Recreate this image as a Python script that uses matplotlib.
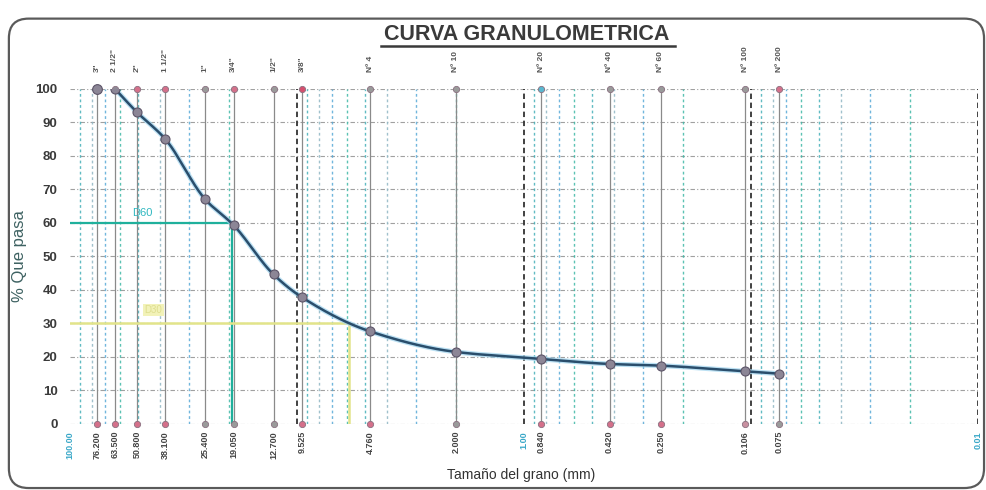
import numpy as np
import matplotlib
matplotlib.use("Agg")
import matplotlib.pyplot as plt
from matplotlib import font_manager
from matplotlib.patches import FancyBboxPatch
from matplotlib.lines import Line2D
import matplotlib.transforms as mtransforms

# ---------------- data ----------------
sieve_names = ['3"', '2 1/2"', '2"', '1 1/2"', '1"', '3/4"', '1/2"', '3/8"',
               'Nº 4', 'Nº 10', 'Nº 20', 'Nº 40', 'Nº 60', 'Nº 100', 'Nº 200']
sieve_sizes = [76.2, 63.5, 50.8, 38.1, 25.4, 19.05, 12.7, 9.525,
               4.76, 2.0, 0.84, 0.42, 0.25, 0.106, 0.075]
curve_sizes = [63.5, 50.8, 38.1, 25.4, 19.05, 12.7, 9.525,
               4.76, 2.0, 0.84, 0.42, 0.25, 0.106, 0.075]
curve_passing = [100.0, 93.0, 85.0, 67.0, 59.3, 44.6, 37.8,
                 27.6, 21.5, 19.4, 17.9, 17.4, 15.7, 15.0]
first_point_size = 76.2
first_point_passing = 100.0
bottom_tick_values = [100.0, 76.2, 63.5, 50.8, 38.1, 25.4, 19.05, 12.7, 9.525,
                      4.76, 2.0, 1.0, 0.84, 0.42, 0.25, 0.106, 0.075, 0.01]
bottom_tick_labels = ['100.00', '76.200', '63.500', '50.800', '38.100', '25.400',
                      '19.050', '12.700', '9.525', '4.760', '2.000', '1.00',
                      '0.840', '0.420', '0.250', '0.106', '0.075', '0.01']
y_ticks = [0, 10, 20, 30, 40, 50, 60, 70, 80, 90, 100]
d60_value = 19.3
d30_value = 5.9

# ---------------- styles ----------------
top_marker_colors = ['#8e8a96', '#8e8a96', '#d4708a', '#d4708a', '#9a9a9a', '#d4708a',
                     '#9a9a9a', '#d4506e', '#9a9a9a', '#9a9a9a', '#5ab8d0', '#9a9a9a',
                     '#9a9a9a', '#9a9a9a', '#d4708a']
bot_marker_colors = ['#d4708a', '#d4708a', '#d4708a', '#d4708a', '#9a9a9a', '#9a9a9a',
                     '#9a9a9a', '#d4708a', '#d4708a', '#9a9a9a', '#d4708a', '#d4708a',
                     '#d4708a', '#c890a0', '#9a9a9a']
teal_labels = {'100.00', '1.00', '0.01'}


def pick_font(cands):
    names = {f.name for f in font_manager.fontManager.ttflist}
    for c in cands:
        if c in names:
            return c
    return 'DejaVu Sans'


narrow = pick_font(['Liberation Sans Narrow', 'Liberation Sans', 'DejaVu Sans'])
regular = pick_font(['Liberation Sans', 'DejaVu Sans'])
plt.rcParams['font.family'] = [narrow, 'DejaVu Sans']

fig = plt.figure(figsize=(9.87, 4.90), dpi=100)
fig.patch.set_facecolor('white')

# outer rounded frame
frame = FancyBboxPatch((0.009, 0.004), 0.988, 0.958, transform=fig.transFigure,
                       boxstyle='round,pad=0,rounding_size=0.02', fill=False,
                       edgecolor='#5a5a5a', linewidth=1.6, mutation_aspect=2.0)
fig.add_artist(frame)

ax = fig.add_axes([0.071, 0.1347, 0.920, 0.6843])
ax.set_xscale('log')
ax.set_xlim(100, 0.01)
ax.set_ylim(0, 100)
for s in ax.spines.values():
    s.set_visible(False)
ax.minorticks_off()

# horizontal grid
for yv in y_ticks:
    ax.axhline(yv, color='#a0a0a0', lw=0.8, ls=(0, (4, 2, 1, 2)), zorder=1)

# minor decorative vertical grid (log minors)
minor_cols = ['#3fb8a6', '#58a9d6', '#8fb7c4', '#45b0b8']
k = 0
for dec in [10.0, 1.0, 0.1, 0.01]:
    for m in range(2, 10):
        xv = dec * m
        ax.axvline(xv, color=minor_cols[k % len(minor_cols)], lw=1.0,
                   ls=(0, (2, 2)), alpha=0.85, zorder=1)
        k += 1
# major decades black dashed
for xv in [10.0, 1.0, 0.1, 0.01]:
    ax.axvline(xv, color='#333333', lw=1.3, ls=(0, (3, 2)), zorder=2)

# sieve lines
for xs in sieve_sizes:
    ax.axvline(xs, color='#8a8a8a', lw=0.9, zorder=2)

# D60 / D30 lines
ax.plot([100, d60_value], [60, 60], color='#1fb09c', lw=1.6, zorder=3)
ax.plot([d60_value, d60_value], [60, 0], color='#1fb09c', lw=1.6, zorder=3)
ax.plot([100, d30_value], [30, 30], color='#e2e48a', lw=1.8, zorder=3)
ax.plot([d30_value, d30_value], [30, 0], color='#e2e48a', lw=1.8, zorder=3)
ax.text(48, 61.5, 'D60', color='#30b8c0', fontsize=8, ha='center', va='bottom', zorder=4)
ax.text(43, 32.5, 'D30', color='#dede90', fontsize=7, ha='center', va='bottom', zorder=4,
        bbox=dict(facecolor='#f2f2b8', edgecolor='none', pad=1))

# sieve markers top/bottom
for xs, ct, cb in zip(sieve_sizes, top_marker_colors, bot_marker_colors):
    ax.plot([xs], [100], 'o', ms=4.5, mfc=ct, mec='#8a7080', mew=0.6, zorder=5, clip_on=False)
    ax.plot([xs], [0], 'o', ms=4.5, mfc=cb, mec='#8a7080', mew=0.6, zorder=5, clip_on=False)


# smooth curve (monotone cubic in log-x)
def pchip(x, y, xn):
    x = np.asarray(x, float); y = np.asarray(y, float)
    h = np.diff(x); d = np.diff(y) / h
    n = len(x); m = np.zeros(n)
    for i in range(1, n - 1):
        if d[i - 1] * d[i] <= 0:
            m[i] = 0
        else:
            w1 = 2 * h[i] + h[i - 1]; w2 = h[i] + 2 * h[i - 1]
            m[i] = (w1 + w2) / (w1 / d[i - 1] + w2 / d[i])
    m[0] = d[0]; m[-1] = d[-1]
    out = np.empty_like(xn)
    for j, xv in enumerate(xn):
        i = min(max(np.searchsorted(x, xv) - 1, 0), n - 2)
        t = (xv - x[i]) / h[i]
        h00 = 2 * t**3 - 3 * t**2 + 1; h10 = t**3 - 2 * t**2 + t
        h01 = -2 * t**3 + 3 * t**2; h11 = t**3 - t**2
        out[j] = h00 * y[i] + h10 * h[i] * m[i] + h01 * y[i + 1] + h11 * h[i] * m[i + 1]
    return out


lx = np.log10(np.array(curve_sizes))[::-1]
ly = np.array(curve_passing)[::-1]
xn = np.linspace(lx[0], lx[-1], 400)
yn = pchip(lx, ly, xn)
ax.plot(10**xn, yn, color='#9fd4ee', lw=3.6, alpha=0.7, zorder=6, solid_capstyle='round')
ax.plot(10**xn, yn, color='#2a4e6c', lw=1.8, zorder=7, solid_capstyle='round')
ax.plot(curve_sizes, curve_passing, 'o', ms=6.5, mfc='#8c8696', mec='#5c5468', mew=0.8, zorder=8)
ax.plot([first_point_size], [first_point_passing], 'o', ms=7, mfc='#8c8696',
        mec='#5c5468', mew=0.8, zorder=8, clip_on=False)

# ticks
ax.set_yticks(y_ticks)
ax.set_yticklabels([str(v) for v in y_ticks], fontsize=9.5, color='#3a3a3a', fontweight='bold')
ax.tick_params(axis='y', length=0, pad=9)
ax.set_xticks(bottom_tick_values)
ax.set_xticklabels(bottom_tick_labels, rotation=90, fontsize=6.5, color='#444444', fontweight='bold')
ax.tick_params(axis='x', length=0, pad=5)
for lab in ax.get_xticklabels():
    if lab.get_text() in teal_labels:
        lab.set_color('#3aa8c8')

# top sieve labels
trans = mtransforms.blended_transform_factory(ax.transData, ax.transAxes)
for name, xs in zip(sieve_names, sieve_sizes):
    ax.text(xs, 1.05, name, transform=trans, rotation=90, ha='center', va='bottom',
            fontsize=6, color='#555555', fontweight='bold')

ax.set_ylabel('% Que pasa', fontsize=12, color='#3e6262', labelpad=6)
ax.set_xlabel('Tamaño del grano (mm)', fontsize=10, color='#333333', labelpad=4,
              family=[regular, 'DejaVu Sans'])
ax.xaxis.set_label_coords(0.497, -0.13)

# title with underline
fig.text(0.534, 0.930, 'CURVA GRANULOMETRICA', ha='center', va='center',
         fontsize=15.5, color='#3a3a3a', fontweight='bold')
fig.add_artist(Line2D([0.386, 0.684], [0.906, 0.906], transform=fig.transFigure,
                      color='#3a3a3a', lw=1.8))

fig.savefig('out.png', dpi=100, facecolor='white')
